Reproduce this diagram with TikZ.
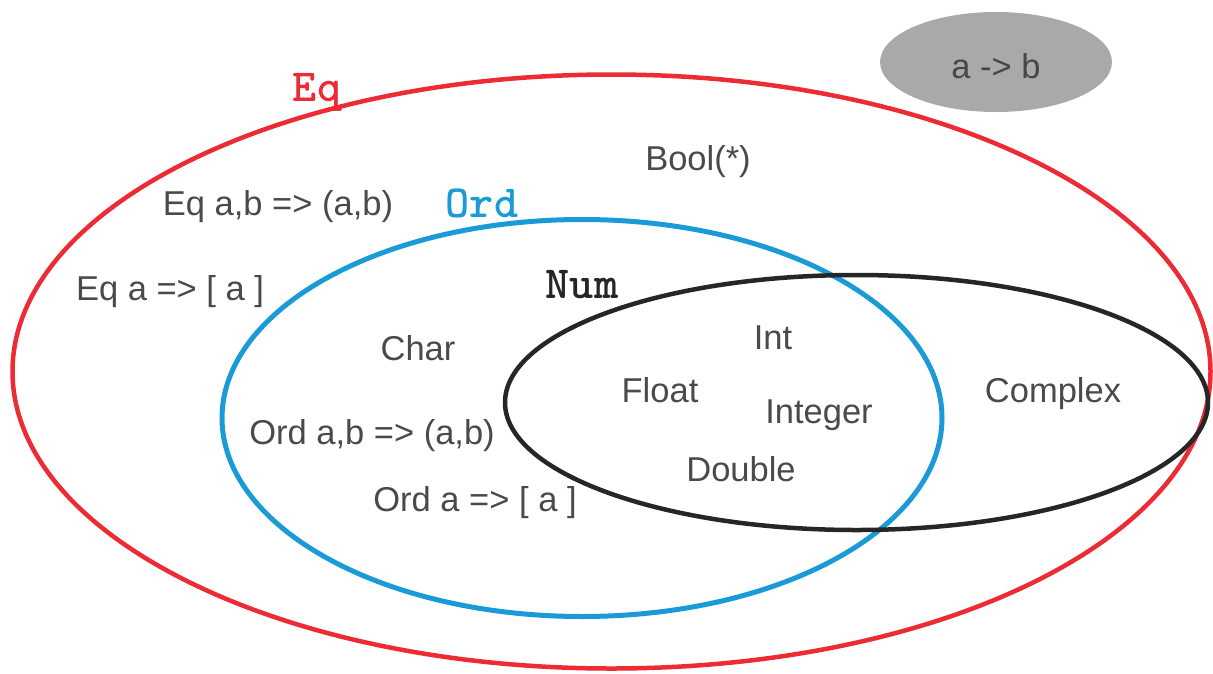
\documentclass[tikz,border=0pt]{standalone}
\usepackage{fontspec}
\setmainfont{Liberation Sans}
\usetikzlibrary{shapes.geometric}
\definecolor{eqred}{HTML}{EC2B34}
\definecolor{ordblue}{HTML}{1A9BD7}
\definecolor{numblack}{HTML}{262626}
\definecolor{txtgray}{HTML}{4A4A4A}
\definecolor{fngray}{HTML}{A9A9AC}
\begin{document}
\begin{tikzpicture}[x=1pt,y=-1pt,
  setring/.style={ellipse, draw, inner sep=0pt, outer sep=0pt},
  lbl/.style={text=txtgray, font=\fontsize{34.5}{38}\selectfont, inner sep=0pt},
  cls/.style={font=\fontsize{46}{48}\selectfont\ttfamily\bfseries, inner sep=0pt}]
  \useasboundingbox (0,0) rectangle (1213,673);

  % class sets
  \node[setring, draw=eqred, line width=4.5pt, minimum width=1198pt, minimum height=594pt] (eq) at (611.5,371.5) {};
  \node[setring, draw=ordblue, line width=5pt, minimum width=720pt, minimum height=397pt] (ord) at (582,418) {};
  \node[setring, draw=numblack, line width=4.5pt, minimum width=703pt, minimum height=255pt] (num) at (856.5,402.5) {};
  \node[ellipse, fill=fngray, inner sep=0pt, minimum width=232pt, minimum height=100pt] (fn) at (996,62) {};
  \node[lbl, text=numblack!85] (fnlbl) at (996,66) {a -> b};

  % class names
  \node[cls, text=eqred] (eqname) at (317,92) {Eq};
  \node[cls, text=ordblue] (ordname) at (482,203) {Ord};
  \node[cls, text=numblack] (numname) at (582,285) {Num};

  % instances
  \node[lbl] (bool) at (698,162) {Bool(*)};
  \node[lbl] (eqpair) at (278,207) {Eq a,b => (a,b)};
  \node[lbl] (eqlist) at (170,292) {Eq a => [ a ]};
  \node[lbl] (char) at (418,348) {Char};
  \node[lbl] (int) at (773,338) {Int};
  \node[lbl] (float) at (660,390) {Float};
  \node[lbl] (integer) at (819,415) {Integer};
  \node[lbl] (complex) at (1053,394) {Complex};
  \node[lbl] (ordpair) at (372,436) {Ord a,b => (a,b)};
  \node[lbl] (double) at (741,469) {Double};
  \node[lbl] (ordlist) at (475,503) {Ord a => [ a ]};
\end{tikzpicture}
\end{document}
